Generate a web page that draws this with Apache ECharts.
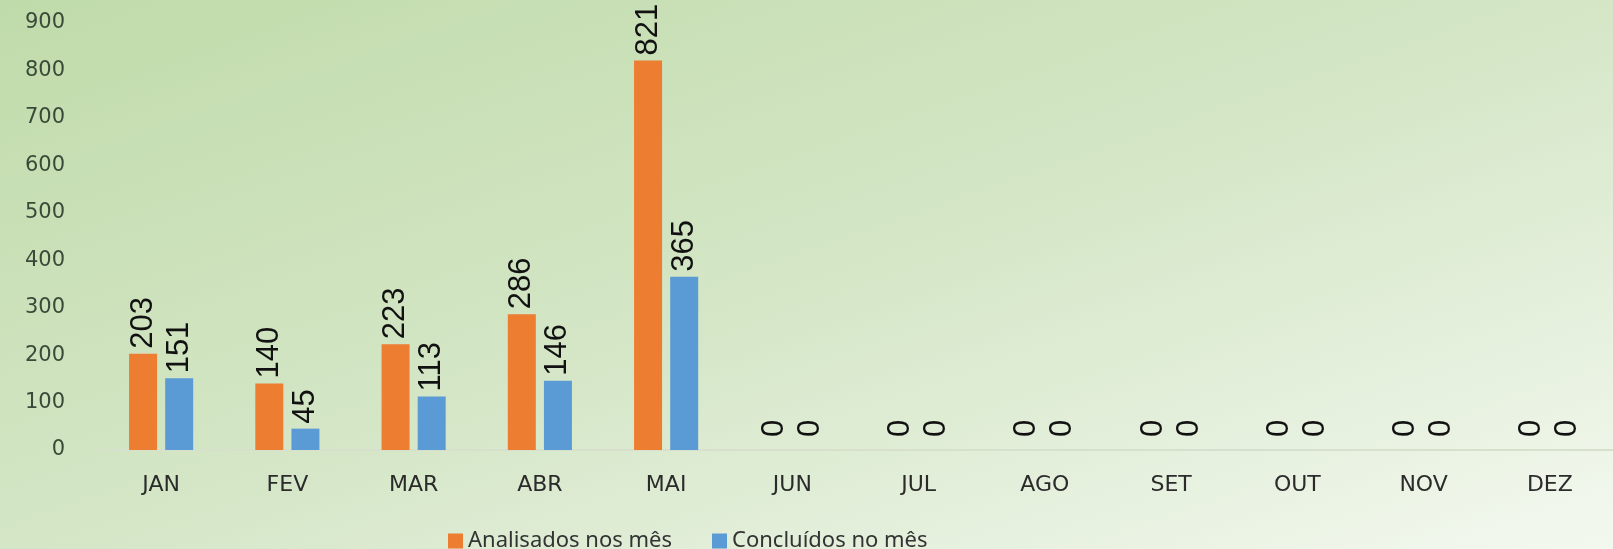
<!DOCTYPE html>
<html lang="pt">
<head>
  <meta charset="UTF-8">
  <title>Analisados x Concluídos</title>
  <script src="https://cdn.jsdelivr.net/npm/echarts@6/dist/echarts.min.js"></script>
  <style>
    html, body { margin: 0; padding: 0; }
    #main { width: 1613px; height: 549px; }
  </style>
</head>
<body>
<div id="main"></div>
<script>
  // dados
  var meses = ['JAN', 'FEV', 'MAR', 'ABR', 'MAI', 'JUN', 'JUL', 'AGO', 'SET', 'OUT', 'NOV', 'DEZ'];
  var analisados = [203, 140, 223, 286, 821, 0, 0, 0, 0, 0, 0, 0];
  var concluidos = [151, 45, 113, 146, 365, 0, 0, 0, 0, 0, 0, 0];
  var nomes = ['Analisados nos mês', 'Concluídos no mês'];

  var myChart = echarts.init(document.getElementById('main'));

  // rótulo vertical por cima da barra; zeros ficam um pouco mais altos
  function comRotulo(arr) {
    return arr.map(function (v) {
      return v === 0 ? { value: v, label: { distance: 13 } } : v;
    });
  }

  var rotulo = {
    show: true,
    position: 'top',
    rotate: 90,
    align: 'left',
    verticalAlign: 'middle',
    distance: 5,
    fontFamily: '"Liberation Sans Narrow", "Liberation Sans", sans-serif',
    fontSize: 31,
    color: '#111'
  };

  myChart.setOption({
    backgroundColor: {
      type: 'linear', x: 0, y: 0, x2: 0.21, y2: 1.79,
      colorStops: [
        { offset: 0, color: '#c0dbaa' },
        { offset: 0.5, color: '#d4e6c6' },
        { offset: 1, color: '#f3f8ef' }
      ]
    },
    animation: false,
    grid: { left: 98, right: -23, top: 23, bottom: 99, containLabel: false },
    legend: {
      left: 443,
      top: 525,
      icon: 'rect',
      itemWidth: 15,
      itemHeight: 15,
      itemGap: 40,
      textStyle: { fontFamily: '"Noto Sans", sans-serif', fontSize: 22, color: '#333' },
      data: nomes
    },
    xAxis: {
      type: 'category',
      data: meses,
      axisLine: { show: true, lineStyle: { color: '#d6e0cd', width: 2 } },
      axisTick: { show: false },
      axisLabel: { margin: 24, fontFamily: '"DejaVu Sans", sans-serif', fontSize: 22, color: '#2b2b2b' }
    },
    yAxis: {
      type: 'value',
      min: 0,
      max: 900,
      interval: 100,
      axisLine: { show: false },
      axisTick: { show: false },
      splitLine: { show: false },
      axisLabel: { margin: 33, fontFamily: '"DejaVu Sans", sans-serif', fontSize: 21, color: '#3a4a38' }
    },
    series: [
      {
        name: nomes[0],
        type: 'bar',
        barWidth: 28,
        barGap: '29%',
        itemStyle: { color: '#ed7d31' },
        label: rotulo,
        data: comRotulo(analisados)
      },
      {
        name: nomes[1],
        type: 'bar',
        barWidth: 28,
        barGap: '29%',
        itemStyle: { color: '#5b9bd5' },
        label: rotulo,
        data: comRotulo(concluidos)
      }
    ]
  });
</script>
</body>
</html>
